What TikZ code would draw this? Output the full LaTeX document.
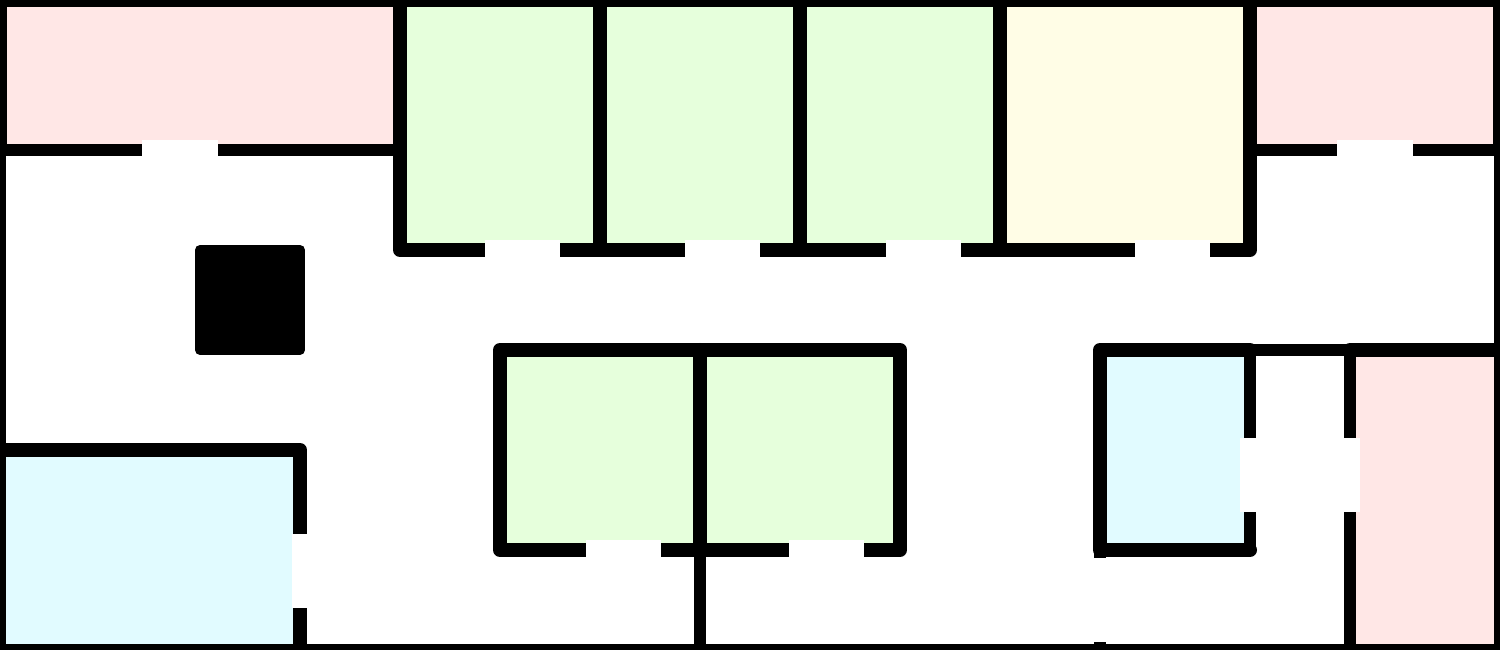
\documentclass[tikz,border=0pt]{standalone}
\usepackage{tikz}
\usepackage{xcolor}
\definecolor{roompink}{RGB}{255,231,230}
\definecolor{roomgreen}{RGB}{230,255,220}
\definecolor{roomyellow}{RGB}{255,253,230}
\definecolor{roomblue}{RGB}{225,251,255}

\begin{document}
\begin{tikzpicture}[y=-1cm]
\tikzstyle{wall}=[draw=black, line width=1.4mm, line join=round, line cap=round]
\tikzstyle{thinwall}=[draw=black, line width=1.15mm, line join=round, line cap=round]
\tikzstyle{door}=[fill=white]
\clip (0,0) rectangle (15,6.5);
\fill[white] (0,0) rectangle (15,6.5);

% rooms
\fill[roompink] (0,0) rectangle (4,1.5);
\fill[roompink] (12.5,0) rectangle (15,1.5);
\fill[roompink] (13.5,3.5) rectangle (15,6.5);
\fill[roomgreen] (4,0) rectangle (10,2.5);
\fill[roomgreen] (5,3.5) rectangle (9,5.5);
\fill[roomyellow] (10,0) rectangle (12.5,2.5);
\fill[roomblue] (0,4.5) rectangle (3,6.5);
\fill[roomblue] (11,3.5) rectangle (12.5,5.5);

% thin walls
\draw[thinwall] (0,0) -- (0,6.5) -- (15,6.5) -- (15,0);
\draw[thinwall] (0,1.5) -- (4,1.5);
\draw[thinwall] (12.5,1.5) -- (15,1.5);
\draw[thinwall] (12.5,3.5) -- (13.5,3.5) -- (13.5,6.5);
\draw[thinwall] (12.5,3.5) -- (12.5,5.5);
\draw[thinwall] (7,5.5) -- (7,6.5);
\draw[thinwall] (11,5.5) -- (11,6.5);

% thick walls
\draw[wall] (0,0) -- (15,0);
\draw[wall] (0,0) -- (0,1.5);
\draw[wall] (15,0) -- (15,1.5);
\draw[wall] (4,0) -- (4,2.5) -- (12.5,2.5) -- (12.5,0);
\foreach \x in {6,8,10}
  \draw[wall] (\x,0) -- (\x,2.5);
\draw[wall] (5,3.5) rectangle (9,5.5);
\draw[wall] (7,3.5) -- (7,5.5);
\draw[wall] (0,4.5) -- (3,4.5) -- (3,6.5);
\draw[wall] (12.5,5.5) -- (11,5.5) -- (11,3.5) -- (12.5,3.5);
\draw[wall] (13.5,3.5) -- (15,3.5);
\draw[draw=black, line width=1mm, line join=round, fill=black] (2,2.5) rectangle (3,3.5);

% door openings
\foreach \x in {1.42,13.37}
  \fill[door] (\x,1.4) rectangle ++(.76,.2);
\foreach \x in {4.85,6.85,8.86,11.35}
  \fill[door] (\x,2.4) rectangle ++(.75,.2);
\foreach \x in {5.86,7.89}
  \fill[door] (\x,5.4) rectangle ++(.75,.2);
\fill[door] (2.92,5.34) rectangle (3.08,6.08);
\fill[door] (12.4,4.38) rectangle (13.6,5.12);
\fill[door] (10.9,5.58) rectangle (11.09,6.42);
\end{tikzpicture}
\end{document}
